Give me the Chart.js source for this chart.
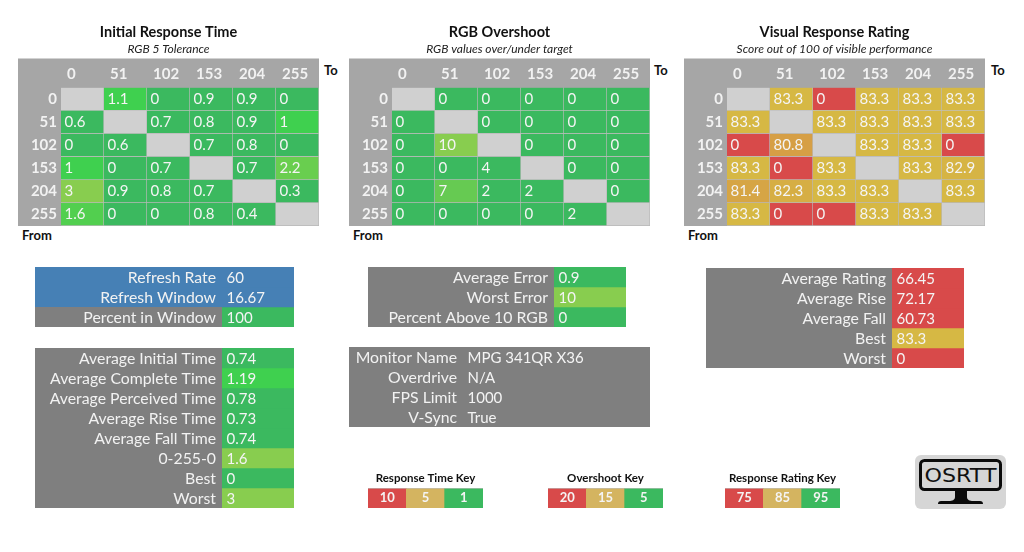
<!DOCTYPE html>
<html>
<head>
<meta charset="utf-8">
<script src="https://cdn.jsdelivr.net/npm/chart.js@4/dist/chart.umd.js"></script>
<style>
  html, body { margin: 0; padding: 0; background: #fff; overflow: hidden; width: 1024px; height: 552px; }
  canvas { position: absolute; }
  .corner { position: absolute; font: bold 13px Lato; color: #111; line-height: 16px; }
  svg { position: absolute; left: 915px; top: 455px; }
</style>
</head>
<body>
<svg width="91" height="54" viewBox="0 0 91 54">
  <rect width="91" height="54" rx="6" fill="#d6d6d6"/>
  <rect x="5.5" y="5.5" width="80" height="29" rx="4" fill="none" stroke="#0b0b0b" stroke-width="3"/>
  <text x="45.5" y="27" text-anchor="middle" font-family="DejaVu Sans" font-size="19" textLength="72" lengthAdjust="spacingAndGlyphs" fill="#111">OSRTT</text>
  <path d="M40 34h12v8c0 3 3 4 6 4H65q3 0 3 3H23q0-3 3-3h8c3 0 6-1 6-4z" fill="#0b0b0b"/>
</svg>
<script>
// heatmap data
var steps = ["0", "51", "102", "153", "204", "255"];
var responseTimes = [
  [null, 1.1, 0, 0.9, 0.9, 0],
  [0.6, null, 0.7, 0.8, 0.9, 1],
  [0, 0.6, null, 0.7, 0.8, 0],
  [1, 0, 0.7, null, 0.7, 2.2],
  [3, 0.9, 0.8, 0.7, null, 0.3],
  [1.6, 0, 0, 0.8, 0.4, null]
];
var overshoot = [
  [null, 0, 0, 0, 0, 0],
  [0, null, 0, 0, 0, 0],
  [0, 10, null, 0, 0, 0],
  [0, 0, 4, null, 0, 0],
  [0, 7, 2, 2, null, 0],
  [0, 0, 0, 0, 2, null]
];
var ratings = [
  [null, 83.3, 0, 83.3, 83.3, 83.3],
  [83.3, null, 83.3, 83.3, 83.3, 83.3],
  [0, 80.8, null, 83.3, 83.3, 0],
  [83.3, 0, 83.3, null, 83.3, 82.9],
  [81.4, 82.3, 83.3, 83.3, null, 83.3],
  [83.3, 0, 0, 83.3, 83.3, null]
];

// stat tables
var refreshLabels = ["Refresh Rate", "Refresh Window", "Percent in Window"];
var refreshValues = ["60", "16.67", "100"];
var timeLabels = ["Average Initial Time", "Average Complete Time", "Average Perceived Time", "Average Rise Time", "Average Fall Time", "0-255-0", "Best", "Worst"];
var timeValues = ["0.74", "1.19", "0.78", "0.73", "0.74", "1.6", "0", "3"];
var errorLabels = ["Average Error", "Worst Error", "Percent Above 10 RGB"];
var errorValues = ["0.9", "10", "0"];
var monitorLabels = ["Monitor Name", "Overdrive", "FPS Limit", "V-Sync"];
var monitorValues = ["MPG 341QR X36", "N/A", "1000", "True"];
var ratingLabels = ["Average Rating", "Average Rise", "Average Fall", "Best", "Worst"];
var ratingValues = ["66.45", "72.17", "60.73", "83.3", "0"];

// keys
var responseKey = ["10", "5", "1"];
var overshootKey = ["20", "15", "5"];
var ratingKey = ["75", "85", "95"];

// colours
var GREEN = "#3bb95f", BRIGHT = "#3fd04f", LIME = "#88cd4f", RED = "#d84a4a", GOLD = "#d6b844", TAN = "#d4b460";
var HEAD = "#a6a6a6", EMPTY = "#d0d0d0", SLATE = "#7f7f7f", BLUE = "#4680b5";
var keyColors = [RED, TAN, GREEN];

function hex(c) { return [1, 3, 5].map(function(i) { return parseInt(c.substr(i, 2), 16); }); }
function colorScale(stops) {
  return function(v) {
    if (v === null) return EMPTY;
    if (v <= stops[0][0]) return stops[0][1];
    for (var i = 1; i < stops.length; i++) {
      if (v <= stops[i][0]) {
        var t = (v - stops[i - 1][0]) / (stops[i][0] - stops[i - 1][0]);
        var a = hex(stops[i - 1][1]), b = hex(stops[i][1]);
        return "rgb(" + a.map(function(x, k) { return Math.round(x + (b[k] - x) * t); }).join(",") + ")";
      }
    }
    return stops[stops.length - 1][1];
  };
}
var timeColor = colorScale([[0.9, GREEN], [1, BRIGHT], [1.1, BRIGHT], [3, LIME]]);
var overColor = colorScale([[4, GREEN], [5, "#50c854"], [10, LIME]]);
var rateColor = colorScale([[75, RED], [80.8, "#d69f45"], [83.3, GOLD]]);

Chart.defaults.font.family = "Lato";
Chart.defaults.animation = false;

// grey label band behind the axes, blue rows where asked
var bandPlugin = {
  id: "bands",
  beforeDraw: function(chart) {
    var o = chart.options.plugins.bands, a = chart.chartArea, c = chart.ctx;
    var x = chart.scales.x;
    var top = x.options.display ? x.top : a.top;
    c.save();
    c.fillStyle = o.color;
    c.fillRect(0, top, chart.width, a.bottom - top);
    if (o.rowColors) {
      var h = (a.bottom - a.top) / o.rowColors.length;
      o.rowColors.forEach(function(col, r) {
        c.fillStyle = col;
        c.fillRect(0, a.top + r * h, chart.width, h);
      });
    }
    c.restore();
  }
};

// value text inside each bar
var cellTextPlugin = {
  id: "cellText",
  afterDatasetsDraw: function(chart) {
    var o = chart.options.plugins.cellText, c = chart.ctx;
    c.save();
    c.font = o.font;
    c.fillStyle = "#f4f4f4";
    c.textBaseline = "middle";
    c.textAlign = o.center ? "center" : "left";
    chart.data.datasets.forEach(function(ds, d) {
      chart.getDatasetMeta(d).data.forEach(function(bar, i) {
        var v = ds.data[i].v;
        if (v === null) return;
        var tx = o.center ? bar.x : bar.x - bar.width / 2 + o.pad;
        c.fillText(String(v), tx, (bar.y + bar.base) / 2 + o.dy);
      });
    });
    c.restore();
  }
};

// axis box has a fixed size, no overhang for the tick labels
function fixBox(s, w, h) {
  if (w !== null) s.width = w;
  if (h !== null) s.height = h;
  s.paddingLeft = s.paddingRight = s.paddingTop = s.paddingBottom = 0;
}

function cellChart(cfg) {
  var canvas = document.createElement("canvas");
  canvas.style.left = cfg.left + "px";
  canvas.style.top = cfg.top + "px";
  canvas.width = cfg.width;
  canvas.height = cfg.height;
  document.body.appendChild(canvas);

  var datasets = cfg.values.map(function(row, r) {
    return {
      grouped: false,
      barPercentage: 1,
      categoryPercentage: 1,
      borderSkipped: false,
      borderWidth: cfg.line ? { right: 1, bottom: 1, top: 0, left: 0 } : 0,
      borderColor: "rgba(255,255,255,0.22)",
      data: row.map(function(v, c) { return { x: cfg.cols[c], y: [r, r + 1], v: v }; }),
      backgroundColor: row.map(function(v, c) { return cfg.color(v, r, c); })
    };
  });

  var scales = {
    x: {
      type: "category",
      labels: cfg.cols,
      offset: true,
      position: "top",
      display: !!cfg.header,
      border: { display: false },
      grid: { display: false, drawTicks: false },
      ticks: {
        color: "#f2f2f2",
        font: { size: 15, weight: "bold" },
        align: "start",
        labelOffset: -15.5,
        padding: 4,
        maxRotation: 0,
        autoSkip: false
      },
      afterFit: function(s) { fixBox(s, null, cfg.header || 0); }
    },
    y: { type: "linear", min: 0, max: cfg.values.length, reverse: true, display: false }
  };
  if (cfg.rows) {
    scales.rows = {
      type: "category",
      axis: "y",
      labels: cfg.rows,
      offset: true,
      position: "left",
      border: { display: false },
      grid: { display: false, drawTicks: false },
      ticks: {
        color: "#f2f2f2",
        font: { size: cfg.rowSize, weight: cfg.header ? "bold" : "normal" },
        padding: cfg.rowPad,
        labelOffset: cfg.rowDy || 0,
        autoSkip: false
      },
      afterFit: function(s) { fixBox(s, cfg.rowWidth, null); }
    };
  }

  return new Chart(canvas, {
    type: "bar",
    data: { labels: cfg.cols, datasets: datasets },
    options: {
      responsive: false,
      layout: { padding: 0 },
      scales: scales,
      plugins: {
        legend: { display: false },
        tooltip: { enabled: false },
        title: cfg.title ? {
          display: true, text: cfg.title, color: "#111",
          font: { size: cfg.titleSize, weight: "bold", lineHeight: 1 },
          padding: cfg.titlePad
        } : { display: false },
        subtitle: cfg.subtitle ? {
          display: true, text: cfg.subtitle, color: "#222",
          font: { size: 12, style: "italic", lineHeight: 1 },
          padding: { top: 0, bottom: 3 }
        } : { display: false },
        bands: { color: cfg.band || SLATE, rowColors: cfg.rowColors },
        cellText: { font: cfg.font, pad: cfg.pad, center: cfg.center, dy: cfg.dy || 0 }
      }
    },
    plugins: [bandPlugin, cellTextPlugin]
  });
}

function heatmap(left, title, subtitle, values, color) {
  cellChart({
    left: left, top: 20, width: 301, height: 206,
    cols: steps, rows: steps, values: values, color: color,
    header: 29, rowWidth: 43, rowSize: 15, rowPad: 4,
    band: HEAD, line: true,
    title: title, titleSize: 14.5, titlePad: { top: 5, bottom: 4 }, subtitle: subtitle,
    font: "15px Lato", pad: 3.5, dy: 0
  });
}

function statTable(left, top, width, split, labels, values, colors, rowColors) {
  cellChart({
    left: left, top: top, width: width, height: labels.length * 20,
    cols: ["value"], rows: labels, values: values.map(function(v) { return [v]; }),
    color: function(v, r) { return colors[r]; },
    rowWidth: split, rowSize: 15.8, rowPad: 6, rowDy: 1, rowColors: rowColors,
    font: "15px Lato", pad: 4.5, dy: 1
  });
}

function keyChart(left, title, values) {
  cellChart({
    left: left, top: 469, width: 115, height: 39.5,
    cols: values.map(function(v, i) { return "k" + i; }), values: [values],
    color: function(v, r, c) { return keyColors[c]; },
    title: title, titleSize: 11.5, titlePad: { top: 4, bottom: 4 },
    font: "bold 13px Lato", center: true
  });
}

function corner(text, x, y) {
  var d = document.createElement("div");
  d.className = "corner";
  d.textContent = text;
  d.style.left = x + "px";
  d.style.top = y + "px";
  document.body.appendChild(d);
}

heatmap(18, "Initial Response Time", "RGB 5 Tolerance", responseTimes, timeColor);
heatmap(349, "RGB Overshoot", "RGB values over/under target", overshoot, overColor);
heatmap(684, "Visual Response Rating", "Score out of 100 of visible performance", ratings, rateColor);

[[324, 22], [654, 353], [991, 688]].forEach(function(p) {
  corner("To", p[0], 62);
  corner("From", p[1], 227);
});

statTable(35, 267, 259, 187, refreshLabels, refreshValues, [BLUE, BLUE, GREEN], [BLUE, BLUE, SLATE]);
statTable(35, 348, 259, 187, timeLabels, timeValues, [GREEN, BRIGHT, GREEN, GREEN, GREEN, LIME, GREEN, LIME]);
statTable(368, 267, 258, 186, errorLabels, errorValues, [GREEN, LIME, GREEN]);
statTable(349, 347, 301, 114, monitorLabels, monitorValues, [SLATE, SLATE, SLATE, SLATE]);
statTable(706, 268, 258, 186, ratingLabels, ratingValues, [RED, RED, RED, GOLD, RED]);

keyChart(368, "Response Time Key", responseKey);
keyChart(548, "Overshoot Key", overshootKey);
keyChart(725, "Response Rating Key", ratingKey);
</script>
</body>
</html>
